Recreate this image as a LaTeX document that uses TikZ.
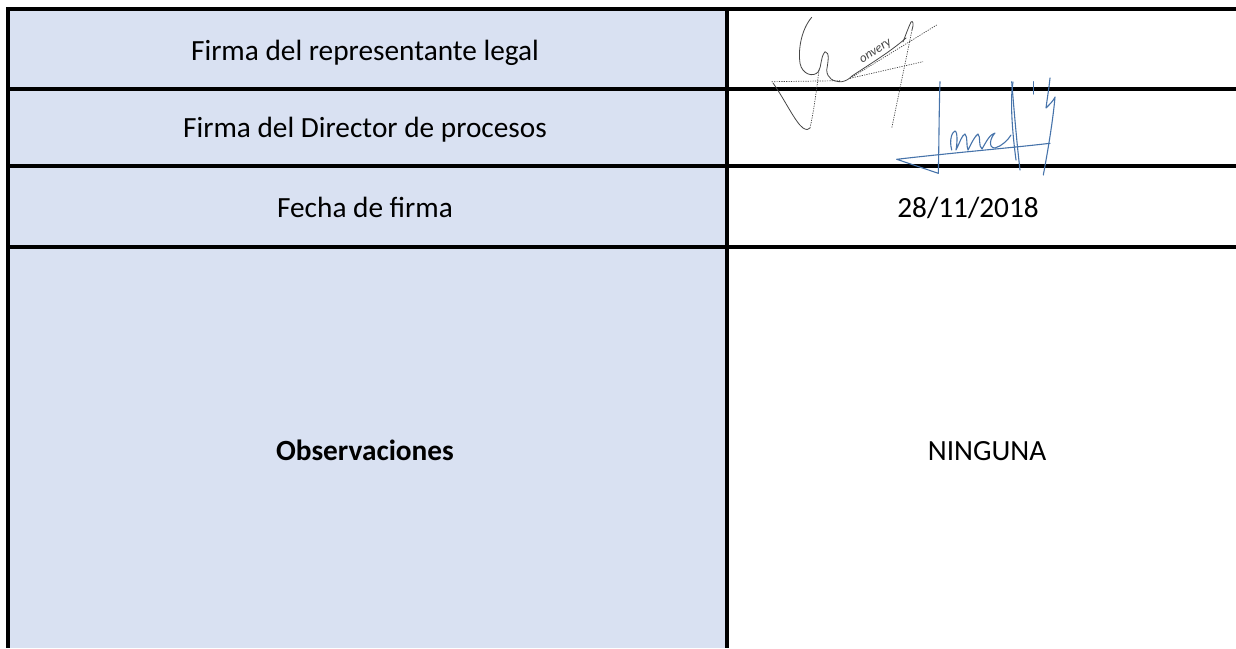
\documentclass[tikz,border=0pt]{standalone}
\usepackage{fontspec}
\setmainfont{Carlito}
\definecolor{cellblue}{RGB}{217,225,242}
\definecolor{sigblue}{RGB}{70,115,170}
\definecolor{siggray}{RGB}{70,70,70}
\begin{document}
\begin{tikzpicture}[x=1pt,y=-1pt,
  gridline/.style={line width=4pt,black},
  celltext/.style={font=\fontsize{29.3}{35}\selectfont,anchor=base,inner sep=0pt},
  penA/.style={siggray,line width=0.8pt,line cap=round,line join=round},
  penAdot/.style={siggray,line width=0.7pt,dash pattern=on 1.2pt off 1.2pt},
  penB/.style={sigblue,line width=1.1pt,line cap=round,line join=round}]
\useasboundingbox (0,0) rectangle (1236,648);
% fill of the label column
\fill[cellblue] (8,9) rectangle (727,648);
% grid
\draw[gridline] (6,9) -- (1236,9);
\draw[gridline] (6,89) -- (1236,89);
\draw[gridline] (6,166) -- (1236,166);
\draw[gridline] (6,247) -- (1236,247);
\draw[gridline] (8,7) -- (8,648);
\draw[gridline] (727,7) -- (727,648);
% texts
\node[celltext] (l1) at (365,60) {Firma del representante legal};
\node[celltext] (l2) at (365,137) {Firma del Director de procesos};
\node[celltext] (l3) at (365,217) {Fecha de firma};
\node[celltext] (r3) at (968,217) {28/11/2018};
\node[celltext,font=\fontsize{29.3}{35}\selectfont\bfseries] (l4) at (365,460) {Observaciones};
\node[celltext] (r4) at (987,460) {NINGUNA};
% signature 1 (gray)
\draw[penA] (811.7,17.3) .. controls (801,30) and (798,50) .. (800,63.3)
  .. controls (802,74) and (813,78) .. (818.3,71.7)
  .. controls (822,66) and (820,58) .. (825,51.7)
  .. controls (830,52) and (828,62) .. (826.7,70)
  .. controls (827,78) and (833,82) .. (841.7,81.7)
  .. controls (846,81) and (849,79) .. (852,76)
  .. controls (870,64) and (890,52) .. (906,38);
\node[siggray,font=\itshape\fontsize{13}{14}\selectfont,rotate=33,inner sep=0pt] (onv) at (876,52) {onvery};
\draw[penA] (903,42) .. controls (906,34) and (909,26) .. (911,22)
  .. controls (913,20) and (914,24) .. (912,30);
\draw[penAdot] (912,30) -- (891.7,128.3);
\draw[penAdot] (771.7,81.7) -- (840,80.7);
\draw[penA] (773,83) .. controls (785,100) and (795,122) .. (803,128)
  .. controls (806,130) and (809,130) .. (810,128);
\draw[penAdot] (810,128) .. controls (813,115) and (816,95) .. (819,70);
\draw[penAdot] (850,78.3) -- (936.7,25);
\draw[penAdot] (850,78.3) -- (923,61.7);
% signature 2 (blue)
\draw[penB] (940,81.7) .. controls (939,110) and (939,145) .. (938.3,173.3)
  -- (896.7,159.3) .. controls (960,152) and (1010,148) .. (1050,143.3);
\draw[penB] (951.7,150) .. controls (949,140) and (952,132) .. (955,131)
  .. controls (958,132) and (957,145) .. (956,150)
  .. controls (960,142) and (962,135) .. (965,134)
  .. controls (968,137) and (966,146) .. (968,150)
  .. controls (972,142) and (975,136) .. (978,134)
  .. controls (981,137) and (978,146) .. (982,149)
  .. controls (986,142) and (990,134) .. (995,133)
  .. controls (990,138) and (988,148) .. (995,148)
  .. controls (1002,146) and (1008,140) .. (1011,135);
\draw[penB] (1011.7,81.7) .. controls (1014,110) and (1017,145) .. (1020,170);
\draw[penB] (1013,82) .. controls (1010,100) and (1012,130) .. (1016,160);
\draw[penB] (1033.3,81.7) -- (1033.3,94);
\draw[penB] (1050,78) .. controls (1049,88) and (1047,100) .. (1046,108)
  .. controls (1050,104) and (1054,100) .. (1055,97)
  .. controls (1053,120) and (1048,150) .. (1043.3,175);
\end{tikzpicture}
\end{document}
